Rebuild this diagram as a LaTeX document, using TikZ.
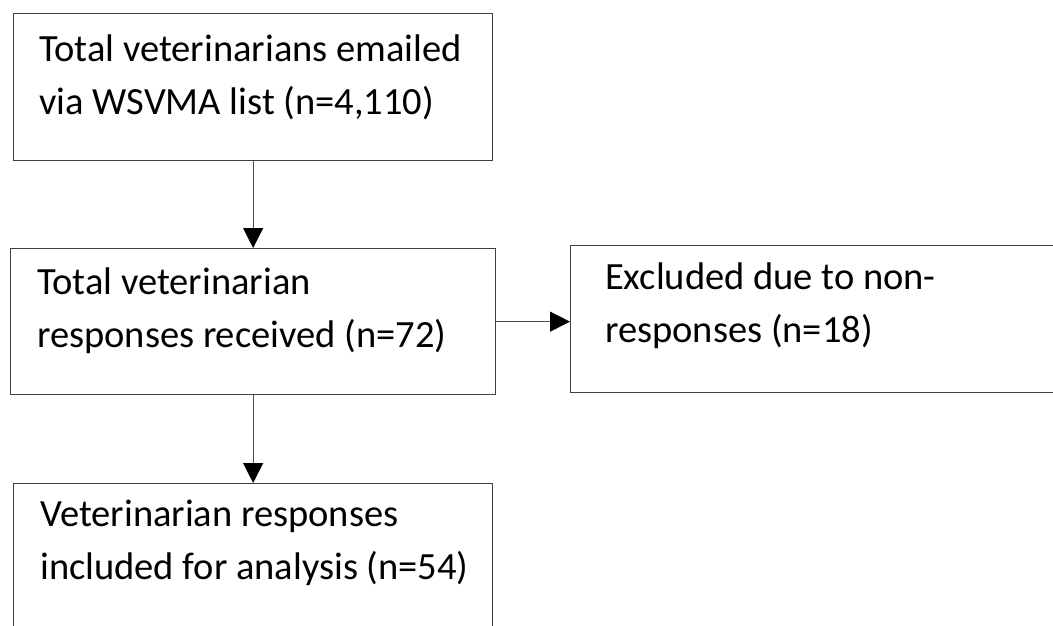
\documentclass[tikz,border=0pt]{standalone}
\usepackage{fontspec}
\setmainfont{Carlito}
\usetikzlibrary{arrows.meta}
\begin{document}
\begin{tikzpicture}[x=1pt, y=1pt,
  box/.style={draw=black!75, line width=1.3pt, anchor=north west, inner sep=0pt},
  txt/.style={anchor=north west, inner sep=0pt, align=left, font=\fontsize{38.5}{53}\selectfont},
  arr/.style={draw=black!70, line width=1.2pt, -{Triangle[length=20pt, width=20pt, color=black]}}]
            \useasboundingbox (0,0) rectangle (1053,-625);
            \node[box, minimum width=479pt, minimum height=147pt] (b1) at (13,-13) {};
            \node[box, minimum width=485pt, minimum height=146pt] (b2) at (10,-248) {};
            \node[box, minimum width=495pt, minimum height=147pt] (b3) at (570,-245) {};
            \node[box, minimum width=479pt, minimum height=160pt] (b4) at (13,-483) {};
            \node[txt] (t1) at (39,-35) {Total veterinarians emailed\\via WSVMA list (n=4,110)};
            \node[txt] (t2) at (37,-268) {Total veterinarian\\responses received (n=72)};
            \node[txt] (t3) at (605,-263) {Excluded due to non-\\responses (n=18)};
            \node[txt] (t4) at (40,-500) {Veterinarian responses\\included for analysis (n=54)};
            \draw[arr] (b1.south) -- (b2.north);
            \draw[arr] (b2.east) -- (b2.east -| b3.west);
            \draw[arr] (b2.south) -- (b4.north);
        \end{tikzpicture}
\end{document}
